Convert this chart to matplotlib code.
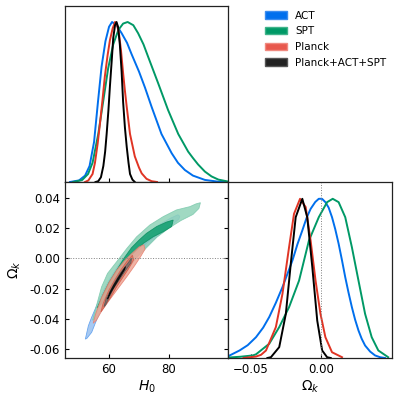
import matplotlib
matplotlib.use('Agg')
import matplotlib.pyplot as plt
from matplotlib.patches import Patch

# ---- data ----
names = ['ACT', 'SPT', 'Planck', 'Planck+ACT+SPT']
line_cols = ['#006FED', '#009966', '#E03424', '#000000']

h0_lim = (45.3, 99.7)
ok_lim = (-0.066, 0.0505)

# 1D marginals of H0
act_h0_x = [47, 50, 52, 53.5, 55, 56.3, 57.5, 58.8, 60, 61, 62.5, 64.2, 66, 67.5, 70, 72,
            74.2, 77.5, 80.9, 83, 85.3, 88, 92, 96.4, 99.7]
act_h0_p = [0, 0.01, 0.04, 0.10, 0.25, 0.5, 0.72, 0.88, 0.97, 1.0, 0.98, 0.93, 0.87, 0.80, 0.69, 0.59,
            0.47, 0.30, 0.18, 0.12, 0.075, 0.04, 0.013, 0.002, 0]
spt_h0_x = [48, 51, 53, 54.5, 56.4, 58.1, 59.7, 61.4, 63.1, 64.7, 66.2, 68.1, 69.7, 71.5, 73.1,
            76.4, 79.7, 83.1, 86.4, 88, 89.7, 92, 94.2, 96.5, 99.7]
spt_h0_p = [0, 0.012, 0.05, 0.12, 0.30, 0.51, 0.71, 0.86, 0.95, 0.99, 1.0, 0.98, 0.93, 0.86, 0.78,
            0.617, 0.45, 0.30, 0.19, 0.15, 0.11, 0.065, 0.035, 0.015, 0.003]
pl_h0_x = [52, 53.1, 54.5, 55.3, 56.2, 57, 57.8, 58.6, 59.5, 60.3, 61.2, 62, 62.7, 63.3, 64, 64.7,
           65.3, 65.9, 67, 68.6, 70, 70.9, 72.5, 74.2, 76]
pl_h0_p = [0, 0.01, 0.05, 0.12, 0.24, 0.37, 0.51, 0.66, 0.79, 0.887, 0.96, 1.0, 0.98, 0.93, 0.82, 0.68,
           0.57, 0.47, 0.30, 0.16, 0.09, 0.054, 0.02, 0.005, 0]
all_h0_x = [55.5, 56.4, 57.3, 58.1, 58.7, 59.2, 59.8, 60.3, 60.9, 61.4, 62, 62.5, 63, 63.6, 64.2,
            64.7, 65.3, 65.9, 66.5, 67, 67.8, 68.6]
all_h0_p = [0, 0.005, 0.03, 0.1, 0.19, 0.30, 0.45, 0.6, 0.76, 0.9, 0.98, 1.0, 0.97, 0.86, 0.69,
            0.5, 0.34, 0.22, 0.12, 0.05, 0.015, 0]

# 1D marginals of Omega_k
act_ok_x = [-0.0655, -0.0648, -0.0578, -0.052, -0.0461, -0.041, -0.0367, -0.032, -0.0273, -0.0238,
            -0.0202, -0.0167, -0.0132, -0.0102, -0.0073, -0.004, -0.0015, 0.0008, 0.0032, 0.0055,
            0.0079, 0.0102, 0.0126, 0.015, 0.0173, 0.0196, 0.022, 0.0243, 0.0267, 0.029, 0.0314,
            0.035, 0.0385, 0.042, 0.0455]
act_ok_p = [0.012, 0.016, 0.047, 0.08, 0.13, 0.19, 0.256, 0.345, 0.443, 0.525,
            0.61, 0.71, 0.797, 0.875, 0.932, 0.975, 0.995, 0.995, 0.974, 0.94,
            0.88, 0.805, 0.714, 0.61, 0.505, 0.41, 0.318, 0.24, 0.172, 0.12, 0.078,
            0.04, 0.016, 0.005, 0]
spt_ok_x = [-0.0655, -0.057, -0.0484, -0.0461, -0.0367, -0.0296, -0.0226, -0.0155, -0.0085,
            -0.0015, 0.0044, 0.0084, 0.0126, 0.0173, 0.022, 0.0267, 0.0314, 0.0361, 0.0408, 0.0478]
spt_ok_p = [0.003, 0.008, 0.016, 0.023, 0.089, 0.193, 0.318, 0.484, 0.734,
            0.88, 0.974, 0.995, 0.974, 0.88, 0.693, 0.484, 0.276, 0.13, 0.047, 0.005]
pl_ok_x = [-0.055, -0.0461, -0.0425, -0.039, -0.032, -0.0273, -0.0226, -0.0191, -0.0148, -0.0108,
           -0.0073, -0.0038, -0.0003, 0.0032, 0.0079, 0.015]
pl_ok_p = [0, 0.009, 0.02, 0.047, 0.193, 0.401, 0.693, 0.901, 0.995, 0.943,
           0.734, 0.484, 0.276, 0.13, 0.036, 0.005]
all_ok_x = [-0.038, -0.0355, -0.0296, -0.0249, -0.0214, -0.0179, -0.0132, -0.0097, -0.0061,
            -0.0026, 0.0009, 0.0044, 0.007]
all_ok_p = [0, 0.005, 0.068, 0.276, 0.589, 0.88, 0.995, 0.88, 0.568, 0.234, 0.047, 0.005, 0]

# 2D contours (H0, Omega_k): upper edge left->right then lower edge back
act95_h = [52.1, 53.1, 54.2, 55.5, 57.5, 60, 63, 66, 69.5, 73, 77, 80.5, 83, 83.6,
           83.3, 80, 76, 72.5, 69.5, 66.5, 63.5, 60.5, 58, 56, 54.2, 52.6]
act95_o = [-0.0535, -0.0447, -0.039, -0.033, -0.024, -0.0145, -0.005, 0.003, 0.011, 0.017, 0.0225, 0.0265, 0.0288, 0.0278,
           0.026, 0.0205, 0.0145, 0.008, 0.0015, -0.006, -0.0145, -0.024, -0.032, -0.040, -0.049, -0.053]
act68_h = [56.5, 58, 60.5, 63.5, 67, 71, 75, 78.5, 80.5, 80, 77, 73, 69.5, 66, 62.5, 59.5, 57.5]
act68_o = [-0.034, -0.026, -0.016, -0.006, 0.003, 0.0115, 0.018, 0.0225, 0.0245,
           0.021, 0.017, 0.011, 0.004, -0.004, -0.0135, -0.023, -0.030]
spt95_h = [54.5, 55.3, 56.4, 57.5, 59.5, 62.5, 65.9, 69.2, 73.6, 78.1, 82.5, 87, 89, 90.5,
           90, 88, 84, 80, 76, 72, 69, 66, 63, 60, 57.5, 55.5]
spt95_o = [-0.041, -0.035, -0.027, -0.019, -0.010, -0.0024, 0.0064, 0.0142, 0.022, 0.0276, 0.032, 0.0342, 0.036, 0.0368,
           0.033, 0.029, 0.025, 0.020, 0.014, 0.006, 0.000, -0.008, -0.017, -0.027, -0.034, -0.040]
spt68_h = [56, 58, 60, 62.5, 65, 67.5, 70, 72.5, 75.9, 79.2, 81.4,
           80.9, 78.1, 74.7, 71.4, 69.2, 67, 64.7, 62, 59.5, 57.5]
spt68_o = [-0.033, -0.024, -0.016, -0.008, 0.000, 0.007, 0.012, 0.0165, 0.021, 0.024, 0.0253,
           0.021, 0.0176, 0.0142, 0.0098, 0.0053, 0.0009, -0.0058, -0.014, -0.023, -0.030]
pl95_h = [54.7, 55.5, 57.5, 60, 62.5, 65, 67.5, 70, 71.6, 72, 70.5, 68.5, 66, 63, 60, 57.5, 55.8]
pl95_o = [-0.043, -0.037, -0.026, -0.016, -0.008, -0.002, 0.003, 0.0075, 0.009,
          0.006, 0.001, -0.005, -0.012, -0.020, -0.028, -0.035, -0.041]
pl68_h = [57.3, 58, 60, 62, 64, 66, 67.8, 68.2, 66.5, 64.5, 62.5, 60.5, 58.5]
pl68_o = [-0.0355, -0.030, -0.021, -0.014, -0.0075, -0.002, 0.002,
          -0.001, -0.007, -0.013, -0.019, -0.026, -0.032]
all95_h = [58.3, 59, 60.5, 62, 64, 66, 67.5, 67.3, 65.5, 63.5, 61.5, 60, 58.8]
all95_o = [-0.032, -0.027, -0.021, -0.0155, -0.009, -0.004, 0.000,
           -0.003, -0.008, -0.014, -0.020, -0.026, -0.031]
all68_h = [59.5, 60.3, 61.5, 63, 64.5, 65.5, 65.2, 63.8, 62.3, 60.8, 59.7]
all68_o = [-0.027, -0.0225, -0.018, -0.013, -0.0085, -0.0055,
           -0.0075, -0.012, -0.017, -0.022, -0.026]

h0_ticks = [60, 80]
ok_ticks = [-0.06, -0.04, -0.02, 0.00, 0.02, 0.04]
ok_ticks_1d = [-0.05, 0.00]

fig = plt.figure(figsize=(3.99, 4.0), dpi=100)
ax1 = fig.add_axes([0.1629, 0.545, 0.4085, 0.44])
ax2 = fig.add_axes([0.1629, 0.105, 0.4085, 0.44])
ax3 = fig.add_axes([0.5714, 0.105, 0.411, 0.44])

for ax in (ax1, ax2, ax3):
    ax.tick_params(direction='in', length=3, width=0.8, labelsize=8.5)
    for s in ax.spines.values():
        s.set_linewidth(0.9)
        s.set_color('#222222')

# top-left: H0 1D
for x, p, c in zip([act_h0_x, spt_h0_x, pl_h0_x, all_h0_x],
                   [act_h0_p, spt_h0_p, pl_h0_p, all_h0_p], line_cols):
    ax1.plot(x, p, color=c, lw=1.4)
ax1.set_xlim(h0_lim)
ax1.set_ylim(0, 1.1)
ax1.set_xticks(h0_ticks)
ax1.set_xticklabels([])
ax1.set_yticks([])

# lower-left: 2D contours
fills = [
    (act95_h, act95_o, '#a7c9f2', '#6aa6ef'), (act68_h, act68_o, '#3b8cef', '#006FED'),
    (spt95_h, spt95_o, '#8fd3b8', '#7cc9ad'), (spt68_h, spt68_o, '#14a070', '#0a8f60'),
    (pl95_h, pl95_o, '#efa595', '#e8806f'), (pl68_h, pl68_o, '#df7a68', '#d25a48'),
    (all95_h, all95_o, '#7a6a68', '#555555'), (all68_h, all68_o, '#111111', '#000000'),
]
for i, (h, o, fc, ec) in enumerate(fills):
    a = 1.0 if i < 2 else 0.85
    ax2.fill(h, o, facecolor=fc, edgecolor=ec, lw=0.6, alpha=a)
ax2.axhline(0, color='gray', ls=':', lw=0.7)
ax2.set_xlim(h0_lim)
ax2.set_ylim(ok_lim)
ax2.set_xticks(h0_ticks)
ax2.set_yticks(ok_ticks)
ax2.set_yticklabels(['%.2f' % t if t != 0 else '0.00' for t in ok_ticks])
ax2.tick_params(right=True)
ax2.set_xlabel(r'$H_0$', fontsize=10, labelpad=2)
ax2.set_ylabel(r'$\Omega_k$', fontsize=10, labelpad=5)

# lower-right: Omega_k 1D
for x, p, c in zip([act_ok_x, spt_ok_x, pl_ok_x, all_ok_x],
                   [act_ok_p, spt_ok_p, pl_ok_p, all_ok_p], line_cols):
    ax3.plot(x, p, color=c, lw=1.4)
ax3.axvline(0, color='gray', ls=':', lw=0.7)
ax3.set_xlim(ok_lim)
ax3.set_ylim(0, 1.1)
ax3.set_xticks(ok_ticks_1d)
ax3.set_xticklabels(['\u22120.05', '0.00'])
ax3.set_yticks([])
ax3.set_xlabel(r'$\Omega_k$', fontsize=10, labelpad=2)

handles = [Patch(facecolor='#006FED', edgecolor='#3b8cef'),
           Patch(facecolor='#009966', edgecolor='#40b38a'),
           Patch(facecolor='#e8584d', edgecolor='#f08a80'),
           Patch(facecolor='#222222', edgecolor='#555555')]
fig.legend(handles, names, loc='upper left', bbox_to_anchor=(0.64, 0.997), frameon=False,
           fontsize=7.5, handlelength=2.1, handleheight=0.7, handletextpad=0.8, labelspacing=0.55)

fig.savefig('out.png', dpi=100)
